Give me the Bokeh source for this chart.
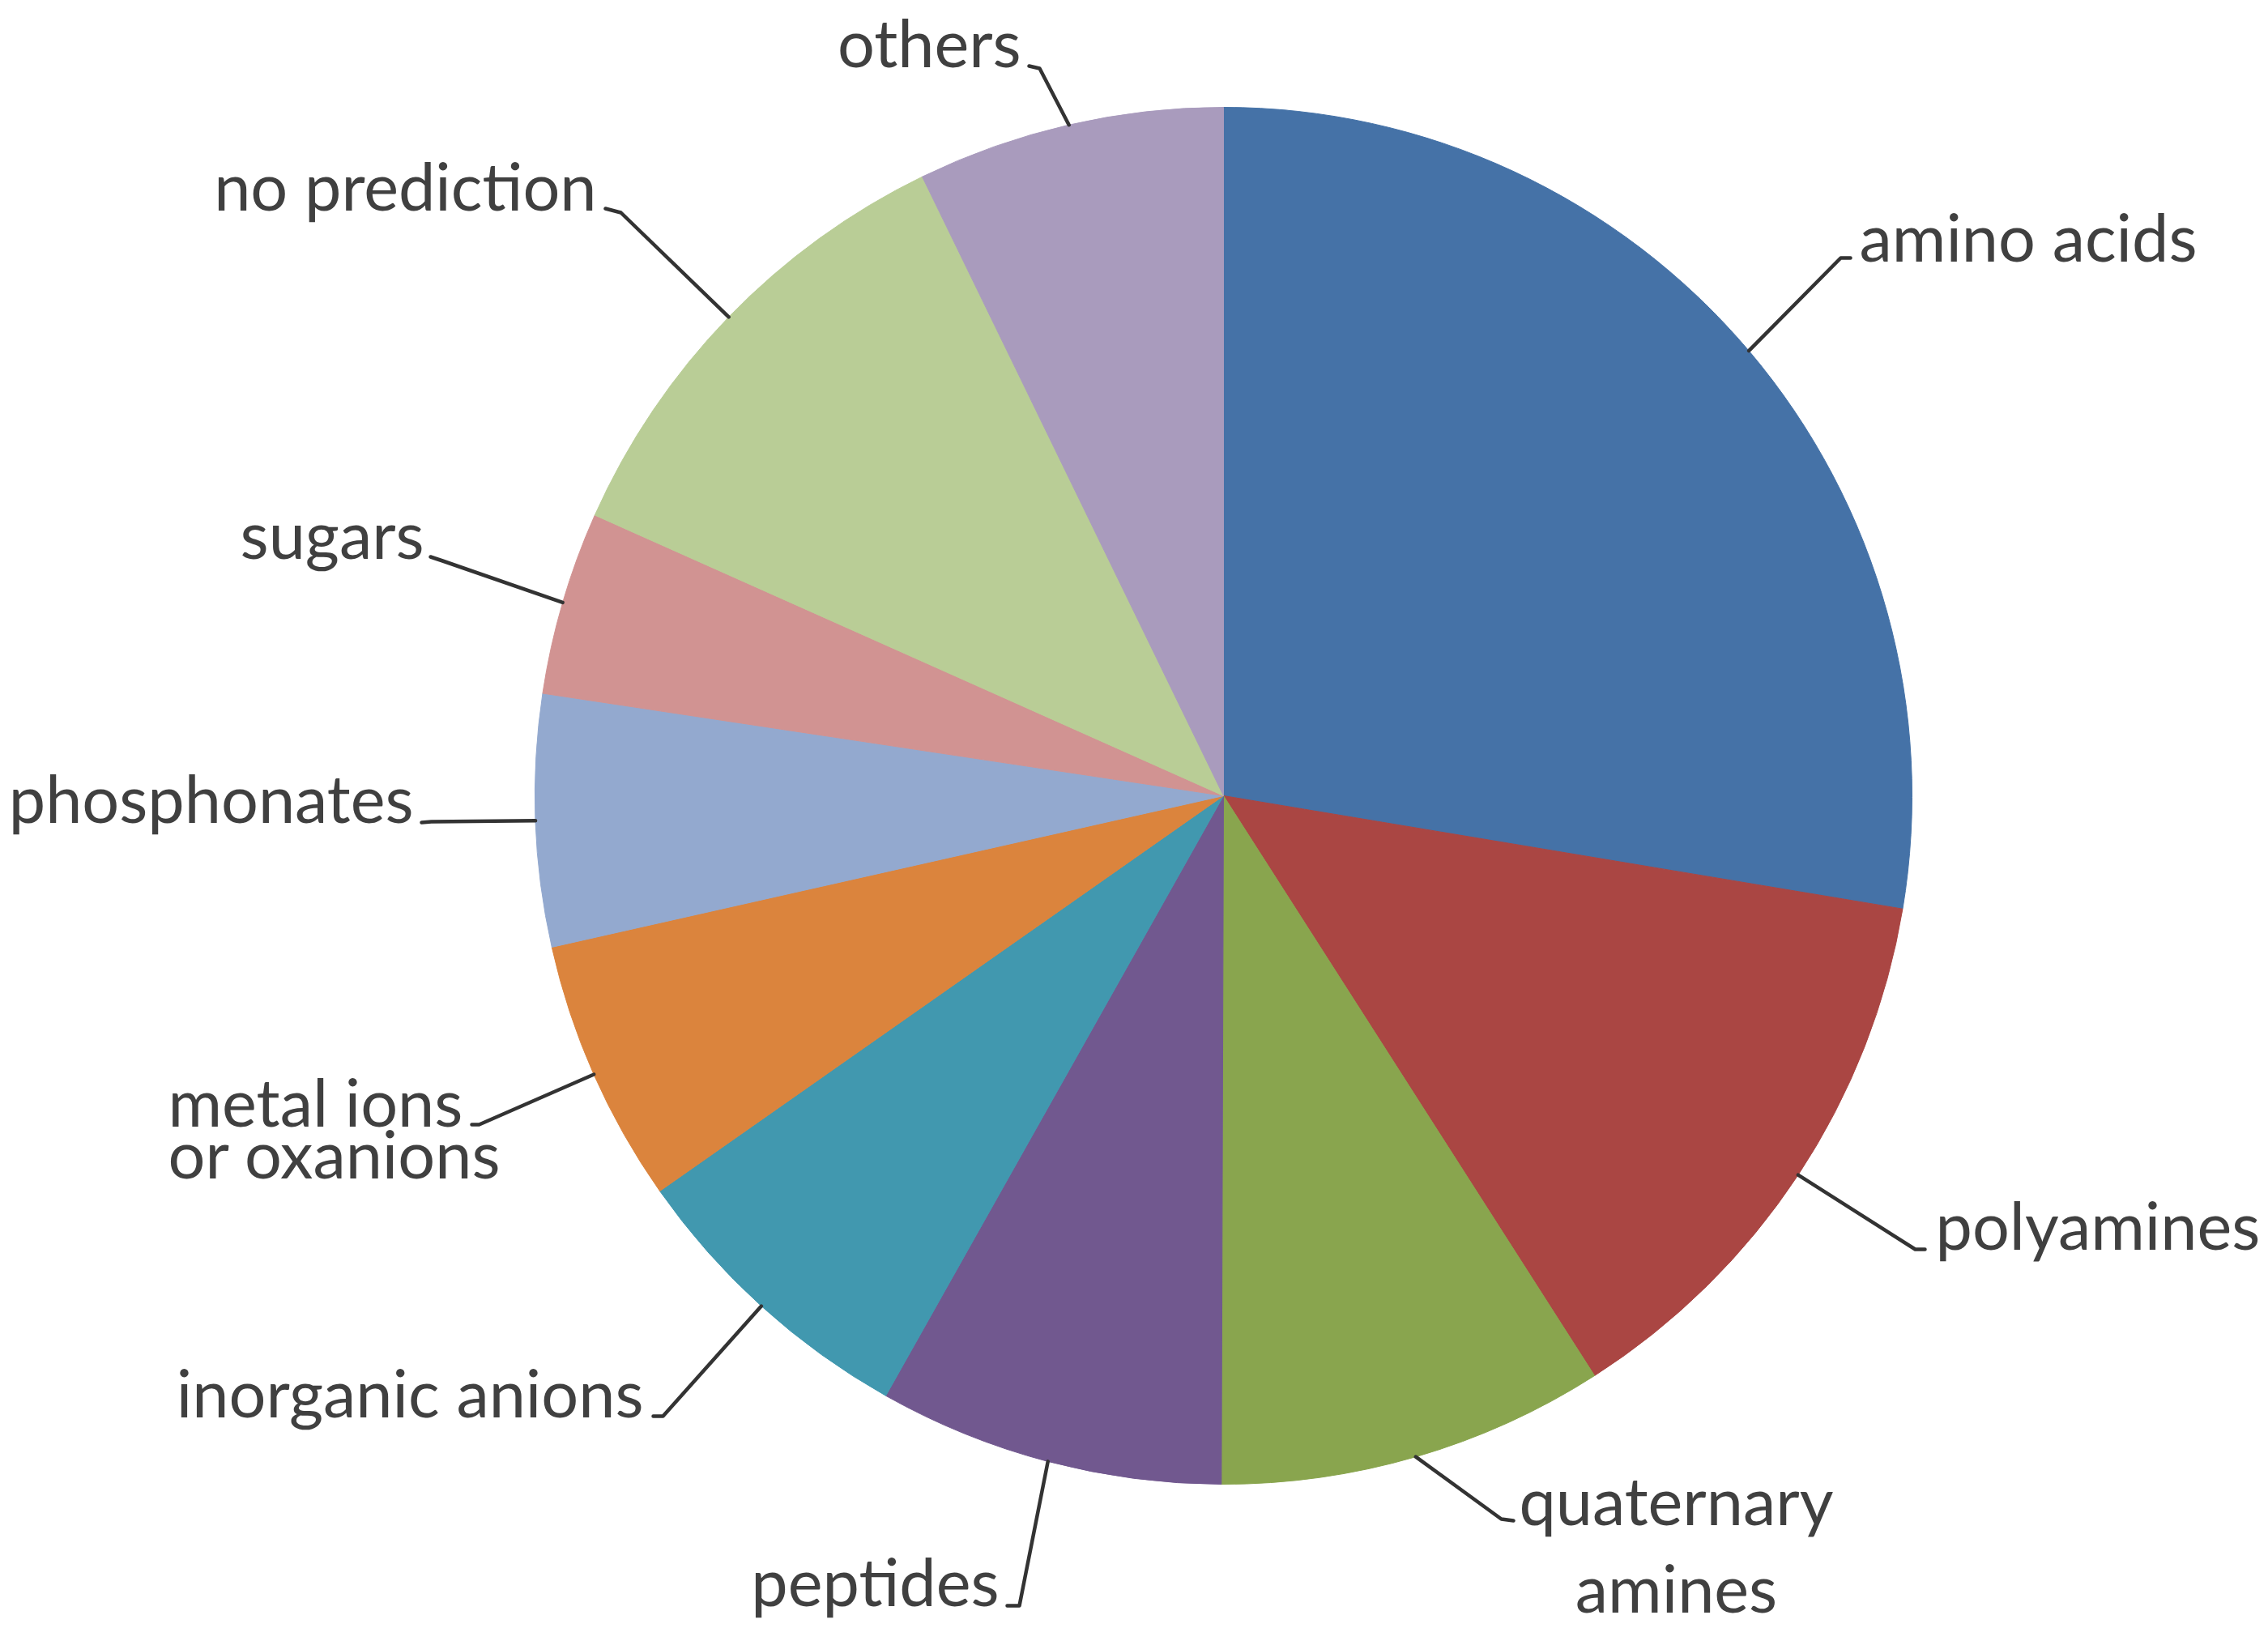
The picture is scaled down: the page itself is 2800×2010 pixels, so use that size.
import numpy as np
from bokeh.plotting import figure
from bokeh.models import Range1d, ColumnDataSource
from bokeh.core.properties import value
from bokeh.embed import file_html
from bokeh.resources import INLINE

# ---------------- data ----------------
categories = ["amino acids", "polyamines", "quaternary amines", "peptides",
              "inorganic anions", "metal ions or oxanions", "phosphonates",
              "sugars", "no prediction", "others"]
shares = [27.6, 13.3, 9.1, 8.1, 7.1, 6.2, 5.9, 4.3, 11.1, 7.2]   # percent of proteins
colors = ["#4572A7", "#AA4643", "#89A54E", "#71588F", "#4198AF",
          "#DB843D", "#93A9CF", "#D19392", "#B9CD96", "#A99BBD"]

# label text lines per category (display text)
label_lines = [["amino acids"], ["polyamines"], ["quaternary", "amines"], ["peptides"],
               ["inorganic anions"], ["metal ions", "or oxanions"], ["phosphonates"],
               ["sugars"], ["no prediction"], ["others"]]

# ---------------- layout (page pixels) ----------------
W, H = 2800, 2010
CX, CY_PAGE, R = 1510, 982, 850
FONT = "Lato"
FSIZE = "81px"
TXT = "#404040"
TEXT_DY = 29   # baseline correction for the svg text renderer

# label anchor x, baselines, alignment, leader elbow and hook points
label_layout = [
    dict(x=2295, base=[320], align="left", elbow=(2272, 318), hook=(2284, 318)),
    dict(x=2389, base=[1540], align="left", elbow=(2364, 1542), hook=(2376, 1542)),
    dict(x=2069, base=[1880, 1988], align="center", elbow=(1853, 1875), hook=(1868, 1877)),
    dict(x=1233, base=[1980], align="right", elbow=(1258, 1982), hook=(1243, 1982)),
    dict(x=794, base=[1747], align="right", elbow=(818, 1748), hook=(806, 1748)),
    dict(x=207, base=[1388, 1452], align="left", elbow=(591, 1388), hook=(582, 1388)),
    dict(x=510, base=[1013], align="right", elbow=(532, 1014), hook=(520, 1015)),
    dict(x=523, base=[687], align="right", elbow=(546, 692), hook=(531, 687)),
    dict(x=736, base=[257], align="right", elbow=(766, 262), hook=(747, 257)),
    dict(x=1260, base=[80], align="right", elbow=(1283, 84), hook=(1270, 81)),
]


def Y(py):
    return 2010 - py


p = figure(width=W, height=H, output_backend="svg", toolbar_location=None,
           x_range=Range1d(0, W), y_range=Range1d(2010 - H, 2010),
           x_axis_type=None, y_axis_type=None, min_border=0)
p.grid.visible = False
p.outline_line_color = None
p.background_fill_color = "white"

frac = np.array(shares, dtype=float)
frac = frac / frac.sum()
cum = np.concatenate([[0.0], np.cumsum(frac)])
start = np.pi / 2 - cum[:-1] * 2 * np.pi
end = np.pi / 2 - cum[1:] * 2 * np.pi
cy = Y(CY_PAGE)

src = ColumnDataSource(dict(start=start, end=end, color=colors, cat=categories))
p.wedge(x=CX, y=cy, radius=R, start_angle="start", end_angle="end",
        direction="clock", fill_color="color", line_color="color", line_width=1,
        source=src)

# leader lines
mid = (start + end) / 2
xs, ys = [], []
for i, lay in enumerate(label_layout):
    ex = CX + R * np.cos(mid[i])
    ey = cy + R * np.sin(mid[i])
    xs.append([ex, lay["elbow"][0], lay["hook"][0]])
    ys.append([ey, Y(lay["elbow"][1]), Y(lay["hook"][1])])
p.multi_line(xs=xs, ys=ys, line_color="#333333", line_width=4.5,
             line_join="round", line_cap="round")

# labels
for lines, lay in zip(label_lines, label_layout):
    for t, b in zip(lines, lay["base"]):
        p.text(x=[lay["x"]], y=[Y(b - TEXT_DY)], text=[t], text_align=lay["align"],
               text_baseline="alphabetic", text_font=value(FONT),
               text_font_size=FSIZE, text_color=TXT)

open("out.html", "w").write(file_html(p, INLINE))
